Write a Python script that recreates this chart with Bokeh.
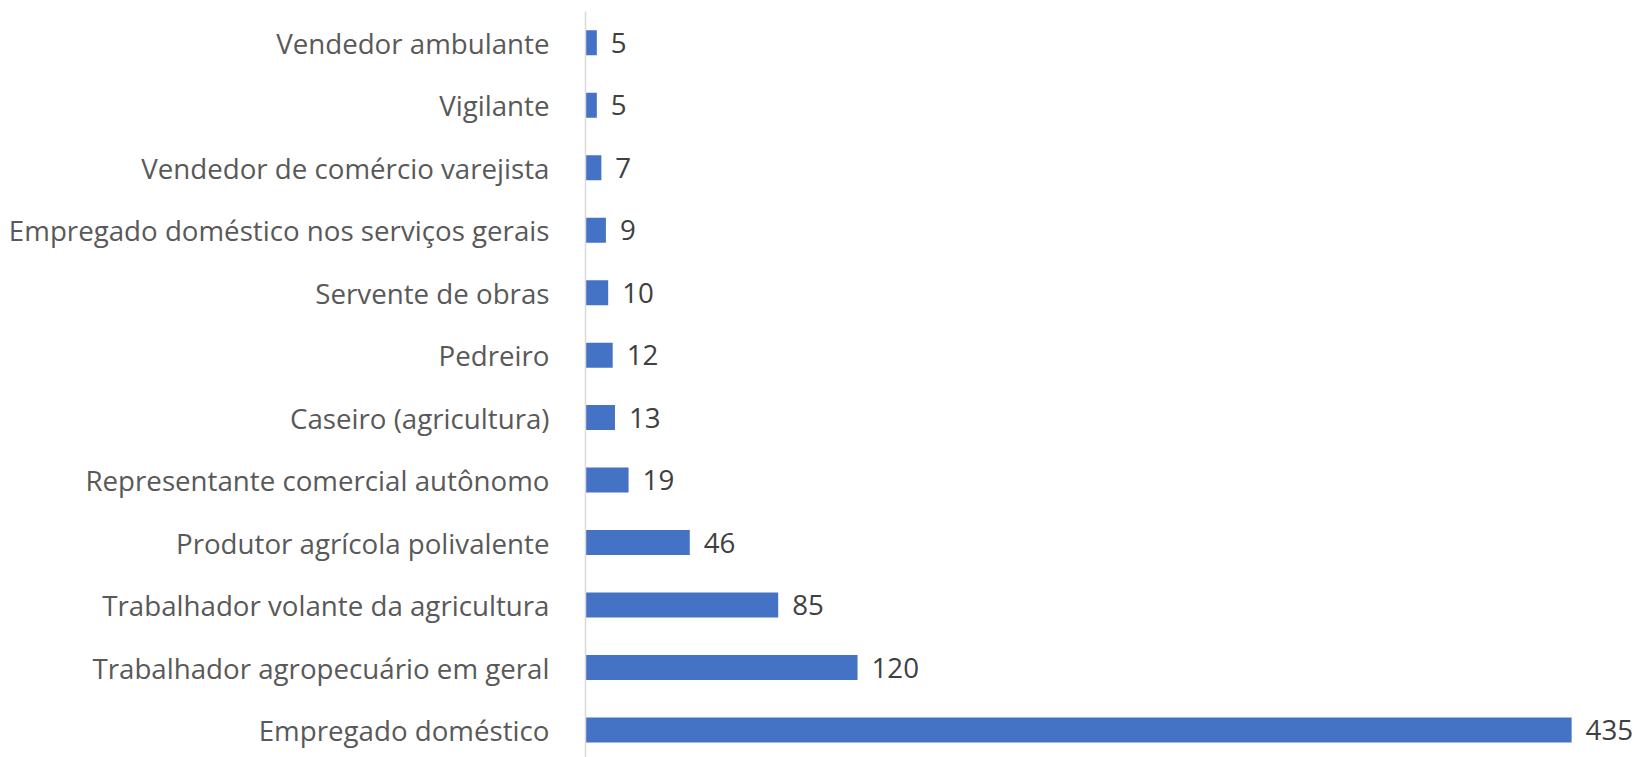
from bokeh.plotting import figure
from bokeh.models import ColumnDataSource, LabelSet, Range1d, FixedTicker
from bokeh.core.properties import value
from bokeh.embed import file_html
from bokeh.resources import INLINE

categories = [
    "Vendedor ambulante",
    "Vigilante",
    "Vendedor de comércio varejista",
    "Empregado doméstico nos serviços gerais",
    "Servente de obras",
    "Pedreiro",
    "Caseiro (agricultura)",
    "Representante comercial autônomo",
    "Produtor agrícola polivalente",
    "Trabalhador volante da agricultura",
    "Trabalhador agropecuário em geral",
    "Empregado doméstico",
]
values = [5, 5, 7, 9, 10, 12, 13, 19, 46, 85, 120, 435]

positions = list(range(len(categories)))
source = ColumnDataSource(dict(
    y=positions,
    v=values,
    lab=[str(v) for v in values],
))

FONT = "Open Sans"
FS = "27.7px"

p = figure(
    width=1638, height=757,
    output_backend="svg", toolbar_location=None,
    x_range=Range1d(0, 464.5),
    y_range=Range1d(len(categories) - 0.56, -0.5),
    min_border_left=585, min_border_right=0, min_border_top=11, min_border_bottom=0,
)
p.hbar(y="y", right="v", left=0, height=0.4, source=source,
       fill_color="#4472C4", line_color=None)

labels = LabelSet(x="v", y="y", text="lab", source=source, x_offset=14,
                  text_baseline="middle", text_align="left",
                  text_font=value(FONT), text_font_size=value(FS), text_color="#404040")
p.add_layout(labels)

p.xaxis.visible = False
p.xgrid.visible = False
p.ygrid.visible = False
p.outline_line_color = None

ax = p.yaxis[0]
ax.ticker = FixedTicker(ticks=positions)
ax.major_label_overrides = {i: c for i, c in zip(positions, categories)}
ax.major_label_text_font = FONT
ax.major_label_text_font_size = FS
ax.major_label_text_color = "#595959"
ax.major_label_standoff = 30
ax.major_tick_line_color = None
ax.minor_tick_line_color = None
ax.axis_line_color = "#d9d9d9"
ax.axis_line_width = 1.5

open("out.html", "w").write(file_html(p, INLINE))
